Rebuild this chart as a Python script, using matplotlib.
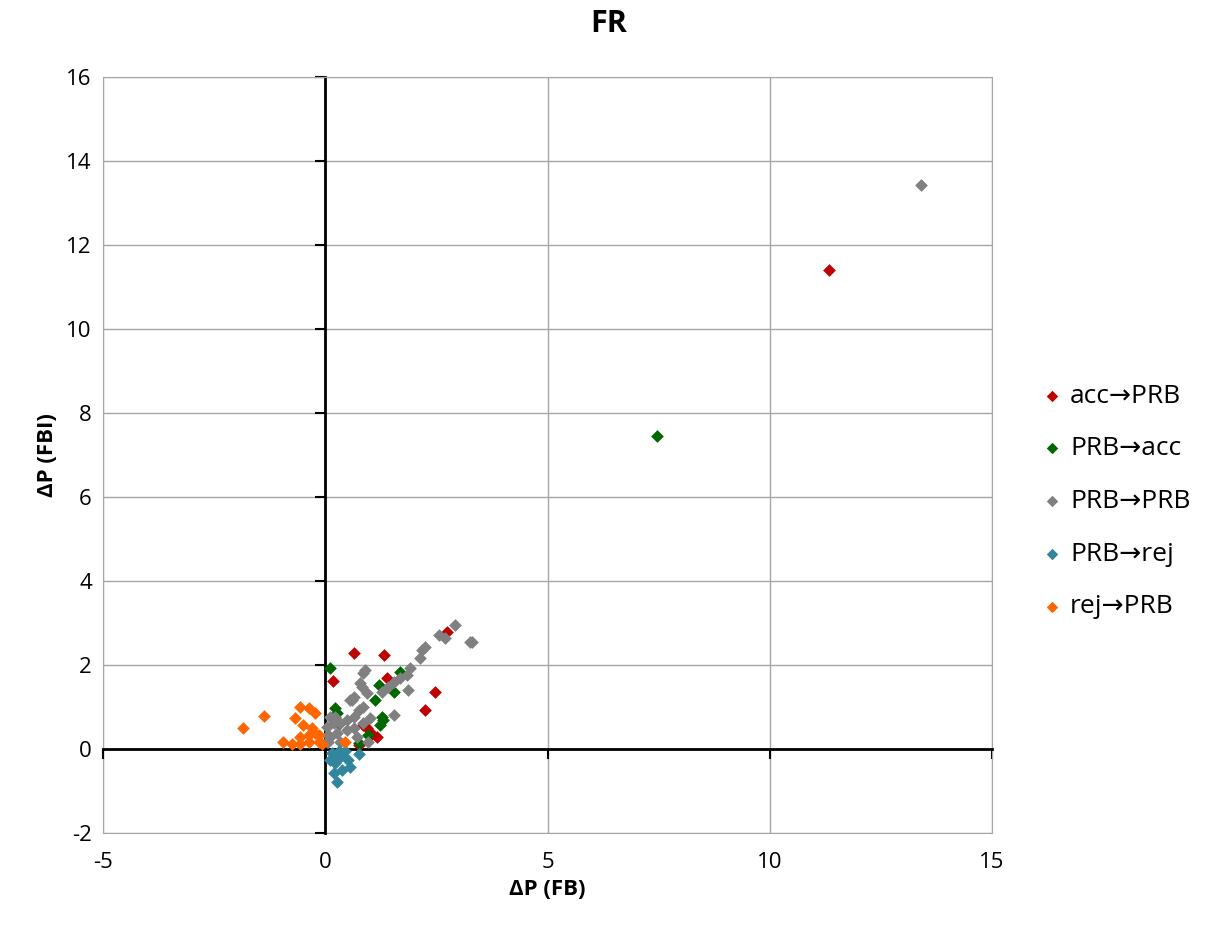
import matplotlib
matplotlib.use("Agg")
import matplotlib.pyplot as plt
import numpy as np

plt.rcParams['font.family'] = ['Open Sans', 'DejaVu Sans']
plt.rcParams['axes.unicode_minus'] = False

# ---- data ----
acc_prb_x = [11.34, 0.64, 1.33, 0.17, 2.46, 2.25, 2.74, 1.39, 0.94, 1.16, 0.86, 0.75, 1.05]
acc_prb_y = [11.40, 2.28, 2.25, 1.62, 1.36, 0.93, 2.79, 1.68, 0.49, 0.29, 0.57, 0.10, 0.35]

prb_acc_x = [7.47, 0.11, 0.22, 0.26, 1.69, 1.20, 1.54, 1.28, 1.24, 0.97, 0.75, 1.12, 1.31, 0.30]
prb_acc_y = [7.45, 1.92, 0.97, 0.85, 1.84, 1.52, 1.36, 0.77, 0.57, 0.33, 0.14, 1.17, 0.69, 0.60]

prb_prb_x = [13.41, 2.92, 3.30, 2.55, 2.70, 3.26, 2.25, 2.17, 2.14, 1.91, 1.84, 1.87, 1.69,
             1.54, 1.42, 1.28, 1.54, 0.90, 0.86, 0.79, 0.64, 0.56, 0.94, 0.75, 0.64, 0.49,
             0.86, 0.34, 0.19, 0.11, 0.04, 0.11, 0.26, 0.49, 0.64, 0.71, 0.97, 0.34, 0.04,
             0.86, 1.01, 0.83, 0.60, 0.22, 0.07, 0.07]
prb_prb_y = [13.43, 2.95, 2.55, 2.71, 2.64, 2.55, 2.44, 2.36, 2.16, 1.92, 1.76, 1.40, 1.68,
             1.60, 1.48, 1.36, 0.81, 1.88, 1.80, 1.56, 1.25, 1.17, 1.33, 0.93, 0.77, 0.69,
             1.01, 0.61, 0.61, 0.77, 0.53, 0.29, 0.37, 0.45, 0.49, 0.29, 0.17, 0.17, 0.17,
             0.61, 0.73, 1.48, 1.17, 0.77, 0.33, 0.17]

prb_rej_x = [0.15, 0.34, 0.22, 0.52, 0.37, 0.19, 0.26, 0.75, 0.56, 0.10, 0.45, 0.30]
prb_rej_y = [-0.10, -0.18, -0.34, -0.26, -0.50, -0.58, -0.78, -0.12, -0.42, -0.25, -0.05, -0.05]

rej_prb_x = [-1.84, -1.37, -0.56, -0.69, -0.37, -0.24, -0.49, -0.30, -0.22, -0.37, -0.56,
             -0.96, -0.75, -0.56, -0.37, -0.15, -0.15, 0.45, -0.07]
rej_prb_y = [0.49, 0.79, 1.01, 0.75, 0.97, 0.85, 0.57, 0.49, 0.37, 0.33, 0.29,
             0.16, 0.13, 0.13, 0.16, 0.17, 0.33, 0.17, 0.13]

series = [
    ("acc\u2192PRB", acc_prb_x, acc_prb_y, "#C00000"),
    ("PRB\u2192acc", prb_acc_x, prb_acc_y, "#006600"),
    ("PRB\u2192PRB", prb_prb_x, prb_prb_y, "#808080"),
    ("PRB\u2192rej", prb_rej_x, prb_rej_y, "#31859C"),
    ("rej\u2192PRB", rej_prb_x, rej_prb_y, "#FF6600"),
]

x_ticks = [-5, 0, 5, 10, 15]
y_ticks = [-2, 0, 2, 4, 6, 8, 10, 12, 14, 16]

# ---- figure ----
fig = plt.figure(figsize=(12.18, 9.34), dpi=100)
ax = fig.add_axes([103 / 1218, 1 - 833 / 934, (992 - 103) / 1218, (833 - 77) / 934])
ax.set_xlim(-5, 15)
ax.set_ylim(-2, 16)
ax.set_xticks(x_ticks)
ax.set_yticks(y_ticks)
ax.grid(True, color="#A6A6A6", linewidth=1)
ax.set_axisbelow(True)
for s in ax.spines.values():
    s.set_color("#A6A6A6")

# main axes cross at zero (Excel style), labels stay at the low edge
ax.spines["left"].set_position(("data", 0))
ax.spines["bottom"].set_position(("data", 0))
ax.spines["left"].set_color("black")
ax.spines["bottom"].set_color("black")
ax.spines["left"].set_linewidth(2)
ax.spines["bottom"].set_linewidth(2)
ax.tick_params(axis="both", direction="out", length=7, width=1.5, color="black",
               labelbottom=False, labelleft=False)

secx = ax.secondary_xaxis("bottom")
secx.set_xticks(x_ticks)
secx.tick_params(length=0, labelsize=16, pad=14)
secx.spines["bottom"].set_color("#A6A6A6")
secy = ax.secondary_yaxis("left")
secy.set_yticks(y_ticks)
secy.tick_params(length=0, labelsize=16, pad=8)
secy.spines["left"].set_color("#A6A6A6")

for label, xs, ys, c in series:
    ax.scatter(xs, ys, marker="D", s=42, color=c, label=label, zorder=3, linewidths=0)

secx.set_xlabel("\u0394P (FB)", fontsize=16, fontweight="bold", labelpad=4)
secy.set_ylabel("\u0394P (FBI)", fontsize=16, fontweight="bold", labelpad=6)
fig.suptitle("FR", fontsize=22, fontweight="bold", y=0.99)

fig.legend(loc="center left", bbox_to_anchor=(0.832, 0.463), frameon=False,
           fontsize=19, labelspacing=1.05, handletextpad=0.15, handlelength=1.1,
           markerscale=0.9)

fig.savefig("out.png", dpi=100)
